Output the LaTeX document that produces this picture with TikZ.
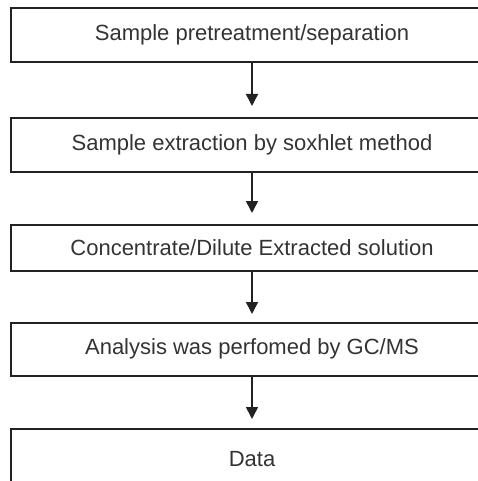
\documentclass[tikz,border=0pt]{standalone}
\usepackage{fontspec}
\setmainfont{Liberation Sans}
\usetikzlibrary{arrows.meta}
\definecolor{ink}{HTML}{222222}
\definecolor{txt}{HTML}{333333}
\begin{document}
\begin{tikzpicture}[x=1pt,y=-1pt,
  stepbox/.style={draw=ink, line width=1.6pt, minimum width=482pt, inner sep=0pt, text=txt,
    font=\fontsize{22}{26}\selectfont, anchor=north},
  flow/.style={draw=ink, line width=1.6pt, -{Triangle[length=12pt,width=12pt]}}]
\useasboundingbox (0,0) rectangle (478,481);
\node[stepbox, minimum height=54pt] (b1) at (252,7) {Sample pretreatment/separation};
\node[stepbox, minimum height=54pt] (b2) at (252,117) {Sample extraction by soxhlet method};
\node[stepbox, minimum height=46pt] (b3) at (252,224) {Concentrate/Dilute Extracted solution};
\node[stepbox, minimum height=53pt] (b4) at (252,322) {Analysis was perfomed by GC/MS};
\node[stepbox, minimum height=60pt] (b5) at (252,428) {Data};
\draw[flow] (b1) -- ([yshift=11pt]b2.north);
\draw[flow] (b2) -- ([yshift=11pt]b3.north);
\draw[flow] (b3) -- ([yshift=8pt]b4.north);
\draw[flow] (b4) -- ([yshift=9pt]b5.north);
\end{tikzpicture}
\end{document}
